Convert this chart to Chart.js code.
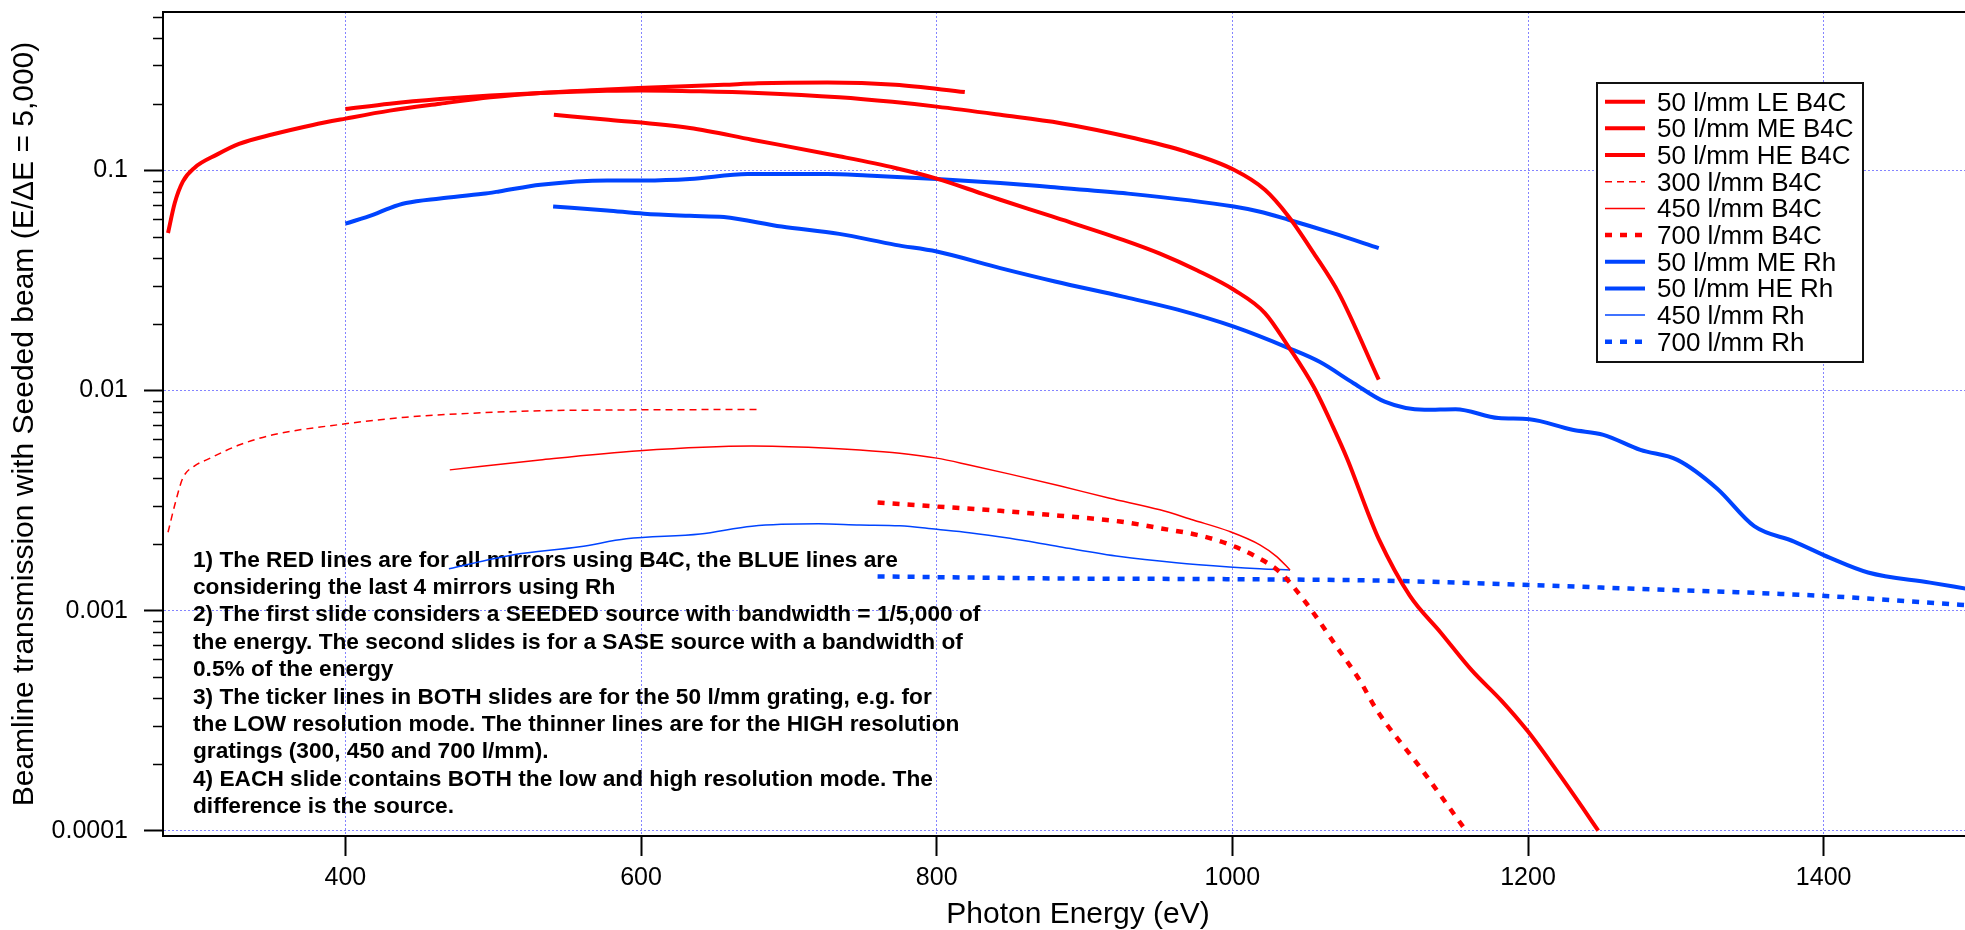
<!DOCTYPE html>
<html>
<head>
<meta charset="utf-8">
<script src="https://cdn.jsdelivr.net/npm/chart.js@4.4.1/dist/chart.umd.min.js"></script>
<style>
  html, body { margin: 0; padding: 0; background: #fff; }
  #wrap { width: 1965px; height: 930px; }
</style>
</head>
<body>
<div id="wrap"><canvas id="myChart"></canvas></div>
<script>
// values: photon energy (eV) and beamline transmission
const leB4cE = [280, 284.5, 290, 298, 313, 328, 351, 378, 400, 430, 464, 498, 532, 577, 598, 656, 679, 726, 772, 819];
const leB4cT = [0.052, 0.071, 0.089, 0.103, 0.118, 0.132, 0.146, 0.161, 0.172, 0.187, 0.201, 0.215, 0.225, 0.233, 0.237, 0.245, 0.249, 0.251, 0.245, 0.227];

const meB4cE = [400, 430, 464, 498, 532, 577, 600, 640, 679, 734, 770, 800, 843, 884, 934, 968, 1001, 1022, 1038, 1055, 1072, 1099];
const meB4cT = [0.190, 0.201, 0.211, 0.219, 0.225, 0.230, 0.231, 0.229, 0.225, 0.215, 0.205, 0.195, 0.179, 0.164, 0.140, 0.122, 0.1007, 0.0817, 0.0618, 0.0421, 0.0277, 0.0112];

const heB4cE = [541, 578, 633, 675, 734, 772, 800, 831, 843, 878, 926, 951, 976, 1001, 1022, 1038, 1055, 1068, 1078, 1092, 1099, 1120, 1141, 1162, 1182, 1200, 1219, 1237, 1247.5];
const heB4cT = [0.179, 0.170, 0.156, 0.138, 0.116, 0.1026, 0.0918, 0.0783, 0.0736, 0.0618, 0.0484, 0.0419, 0.0352, 0.0287, 0.0225, 0.0158, 0.0104, 0.00686, 0.00484, 0.00275, 0.00212, 0.00117, 0.000794, 0.000535, 0.00039, 0.000282, 0.000189, 0.000127, 0.0001];

const b4c300E = [280, 285, 290, 298, 306, 328.5, 351, 400, 441, 486, 531.5, 599, 679];
const b4c300T = [0.00227, 0.0031, 0.0040, 0.00455, 0.00484, 0.00567, 0.00629, 0.00706, 0.00757, 0.00789, 0.00809, 0.00817, 0.0082];

const b4c450E = [470.6, 531.5, 599, 675, 720, 748, 775, 800, 822, 849.5, 883, 917, 951, 973.5, 998, 1018.6, 1030, 1039];
const b4c450T = [0.00436, 0.00484, 0.00533, 0.0056, 0.0055, 0.00537, 0.00519, 0.00493, 0.00459, 0.00417, 0.00369, 0.00324, 0.00287, 0.00258, 0.00229, 0.00199, 0.00176, 0.00153];

const b4c700E = [760, 800, 843, 883, 924, 955.5, 976, 996, 1016, 1032, 1041, 1055, 1070.5, 1086, 1097.6, 1128, 1158];
const b4c700T = [0.0031, 0.00297, 0.00284, 0.0027, 0.00254, 0.00234, 0.00221, 0.00202, 0.00176, 0.0015, 0.00129, 0.000973, 0.000686, 0.000484, 0.000354, 0.00019, 0.0001];

const meRhE = [400, 419, 430, 441, 464, 493, 504, 532, 577, 602, 633, 672, 726, 753, 800, 843, 877, 926, 1001, 1018, 1038, 1068, 1099];
const meRhT = [0.0573, 0.063, 0.0675, 0.0711, 0.0746, 0.0783, 0.0803, 0.0861, 0.0901, 0.090, 0.0914, 0.0964, 0.0964, 0.0949, 0.0914, 0.0877, 0.0841, 0.0789, 0.0686, 0.0651, 0.0597, 0.0519, 0.0444];

const heRhE = [540.5, 577, 602, 633, 656, 695, 734, 772, 800, 843, 880, 926, 963, 1001, 1038, 1059, 1082, 1103, 1130, 1151, 1180, 1201, 1230, 1251, 1276, 1301, 1328, 1353, 1380, 1404, 1430, 1472, 1496];
const heRhT = [0.0686, 0.0658, 0.0636, 0.0622, 0.0614, 0.0556, 0.0515, 0.0459, 0.0428, 0.036, 0.0313, 0.0267, 0.0233, 0.0195, 0.0156, 0.0135, 0.0108, 0.0089, 0.00817, 0.00822, 0.0075, 0.0074, 0.00663, 0.00629, 0.00537, 0.00484, 0.00358, 0.00242, 0.00206, 0.00174, 0.00149, 0.00134, 0.00126];

const rh450E = [470, 513, 558.5, 590, 640, 675, 720, 748, 775, 800, 822, 849.5, 883, 924, 962, 998, 1018.6, 1039];
const rh450T = [0.00155, 0.00179, 0.00195, 0.00212, 0.00223, 0.00242, 0.00248, 0.00245, 0.00243, 0.00234, 0.00226, 0.00213, 0.00195, 0.00176, 0.00165, 0.00158, 0.00155, 0.00153];

const rh700E = [760, 883, 996, 1098, 1184, 1268, 1396, 1496];
const rh700T = [0.00143, 0.0014, 0.00139, 0.00137, 0.00132, 0.00126, 0.00117, 0.00106];

// axis ticks
const xTicks = [400, 600, 800, 1000, 1200, 1400];
const yMajor = [0.0001, 0.001, 0.01, 0.1];
const yMinor = [0.0002, 0.0003, 0.0004, 0.0005, 0.0006, 0.0007, 0.0008, 0.0009,
                0.002, 0.003, 0.004, 0.005, 0.006, 0.007, 0.008, 0.009,
                0.02, 0.03, 0.04, 0.05, 0.06, 0.07, 0.08, 0.09,
                0.2, 0.3, 0.4, 0.5];

const xTitle = 'Photon Energy (eV)';
const notes = [
  '1) The RED lines are for all mirrors using B4C, the BLUE lines are',
  'considering the last 4 mirrors using Rh',
  '2) The first slide considers a SEEDED source with bandwidth = 1/5,000 of',
  'the energy. The second slides is for a SASE source with a bandwidth of',
  '0.5% of the energy',
  '3) The ticker lines in BOTH slides are for the 50 l/mm grating, e.g. for',
  'the LOW resolution mode. The thinner lines are for the HIGH resolution',
  'gratings (300, 450 and 700 l/mm).',
  '4) EACH slide contains BOTH the low and high resolution mode. The',
  'difference is the source.'
];

const RED = 'rgb(255,0,0)';
const BLUE = 'rgb(0,68,255)';
const FONT = '"Liberation Sans", Arial, Helvetica, sans-serif';

function pts(xs, ys) {
  return xs.map((x, i) => ({x: x, y: ys[i]}));
}

function series(label, xs, ys, color, width, dash) {
  return {
    label: label,
    data: pts(xs, ys),
    borderColor: color,
    backgroundColor: color,
    borderWidth: width,
    borderDash: dash || [],
    borderCapStyle: 'butt',
    pointRadius: 0,
    fill: false,
    cubicInterpolationMode: 'monotone'
  };
}

function isMajor(v) {
  return yMajor.some(m => Math.abs(m - v) < m * 1e-6);
}

// text notes, drawn under the curves
const notesPlugin = {
  id: 'notes',
  beforeDatasetsDraw(chart) {
    const ctx = chart.ctx;
    ctx.save();
    ctx.font = 'bold 22.7px ' + FONT;
    ctx.fillStyle = '#000';
    ctx.textBaseline = 'alphabetic';
    notes.forEach((t, i) => ctx.fillText(t, 193, 566.5 + i * 27.4));
    ctx.restore();
  }
};

// top frame line, minor ticks of the log axis, x axis title
const framePlugin = {
  id: 'frame',
  afterDraw(chart) {
    const ctx = chart.ctx;
    const a = chart.chartArea;
    const ys = chart.scales.y;
    ctx.save();
    ctx.strokeStyle = '#000';
    ctx.lineWidth = 2;
    ctx.beginPath();
    ctx.moveTo(a.left - 1, a.top);
    ctx.lineTo(a.right, a.top);
    ctx.stroke();
    ctx.lineWidth = 1.5;
    yMinor.forEach(v => {
      const y = Math.round(ys.getPixelForValue(v)) + 0.5;
      ctx.beginPath();
      ctx.moveTo(a.left - 10, y);
      ctx.lineTo(a.left, y);
      ctx.stroke();
    });
    ctx.font = '30px ' + FONT;
    ctx.fillStyle = '#000';
    ctx.textAlign = 'center';
    ctx.textBaseline = 'middle';
    ctx.fillText(xTitle, 1078, 915);
    ctx.restore();
  }
};

// boxed legend inside the plot
const legendPlugin = {
  id: 'legendBox',
  afterDatasetsDraw(chart) {
    const ctx = chart.ctx;
    const x0 = 1597, y0 = 83, w = 266, h = 279;
    ctx.save();
    ctx.fillStyle = '#fff';
    ctx.fillRect(x0, y0, w, h);
    ctx.lineWidth = 2;
    ctx.strokeStyle = '#111';
    ctx.strokeRect(x0, y0, w, h);
    ctx.font = '26px ' + FONT;
    ctx.textBaseline = 'alphabetic';
    chart.data.datasets.forEach((ds, i) => {
      const cy = y0 + 18.7 + i * 26.67;
      ctx.beginPath();
      ctx.setLineDash(ds.borderDash);
      ctx.lineWidth = ds.borderWidth;
      ctx.strokeStyle = ds.borderColor;
      ctx.moveTo(x0 + 8, cy);
      ctx.lineTo(x0 + 48, cy);
      ctx.stroke();
      ctx.setLineDash([]);
      ctx.fillStyle = '#000';
      ctx.fillText(ds.label, x0 + 60, cy + 9);
    });
    ctx.restore();
  }
};

const gridBlue = 'rgba(110,110,255,0.85)';

const ctx = document.getElementById('myChart');
const myChart = new Chart(ctx, {
  type: 'line',
  data: {
    datasets: [
      series('50 l/mm LE B4C', leB4cE, leB4cT, RED, 4),
      series('50 l/mm ME B4C', meB4cE, meB4cT, RED, 4),
      series('50 l/mm HE B4C', heB4cE, heB4cT, RED, 4),
      series('300 l/mm B4C', b4c300E, b4c300T, RED, 1.5, [7, 5]),
      series('450 l/mm B4C', b4c450E, b4c450T, RED, 1.5),
      series('700 l/mm B4C', b4c700E, b4c700T, RED, 4.5, [7, 8]),
      series('50 l/mm ME Rh', meRhE, meRhT, BLUE, 4),
      series('50 l/mm HE Rh', heRhE, heRhT, BLUE, 4),
      series('450 l/mm Rh', rh450E, rh450T, BLUE, 1.5),
      series('700 l/mm Rh', rh700E, rh700T, BLUE, 4.5, [7, 8])
    ]
  },
  options: {
    responsive: true,
    maintainAspectRatio: false,
    devicePixelRatio: 1,
    animation: false,
    layout: { padding: { top: 12, right: 0, bottom: 0, left: 0 } },
    plugins: {
      legend: { display: false },
      tooltip: { enabled: false }
    },
    scales: {
      x: {
        type: 'linear',
        position: 'bottom',
        min: 276.6,
        max: 1495.6,
        afterBuildTicks: s => { s.ticks = xTicks.map(v => ({value: v})); },
        afterFit: s => { s.height = 94; s.paddingLeft = 0; s.paddingRight = 0; },
        ticks: {
          color: '#000',
          padding: 7,
          maxRotation: 0,
          autoSkip: false,
          font: { family: FONT, size: 25 },
          callback: v => String(v)
        },
        grid: {
          color: gridBlue,
          lineWidth: 1,
          tickLength: 20,
          tickColor: '#000',
          tickWidth: 2
        },
        border: { display: true, color: '#000', width: 2, dash: [2, 2] },
        title: { display: false }
      },
      y: {
        type: 'logarithmic',
        min: 0.0000946,
        max: 0.5248,
        afterBuildTicks: s => {
          s.ticks = yMajor.concat(yMinor).sort((a, b) => a - b).map(v => ({value: v}));
        },
        afterFit: s => { s.width = 163; s.paddingTop = 0; s.paddingBottom = 0; },
        ticks: {
          color: '#000',
          padding: 16,
          autoSkip: false,
          font: { family: FONT, size: 25 },
          callback: v => (isMajor(v) ? String(v) : '')
        },
        grid: {
          color: c => (isMajor(c.tick.value) ? gridBlue : 'rgba(0,0,0,0)'),
          lineWidth: 1,
          tickLength: 19,
          tickColor: c => (isMajor(c.tick.value) ? '#000' : 'rgba(0,0,0,0)'),
          tickWidth: 2
        },
        border: { display: true, color: '#000', width: 2, dash: [2, 2] },
        title: {
          display: true,
          text: 'Beamline transmission with Seeded beam (E/\u0394E = 5,000)',
          color: '#000',
          font: { family: FONT, size: 30, lineHeight: 1 },
          padding: { top: 10, bottom: 0 }
        }
      }
    }
  },
  plugins: [notesPlugin, framePlugin, legendPlugin]
});
</script>
</body>
</html>
